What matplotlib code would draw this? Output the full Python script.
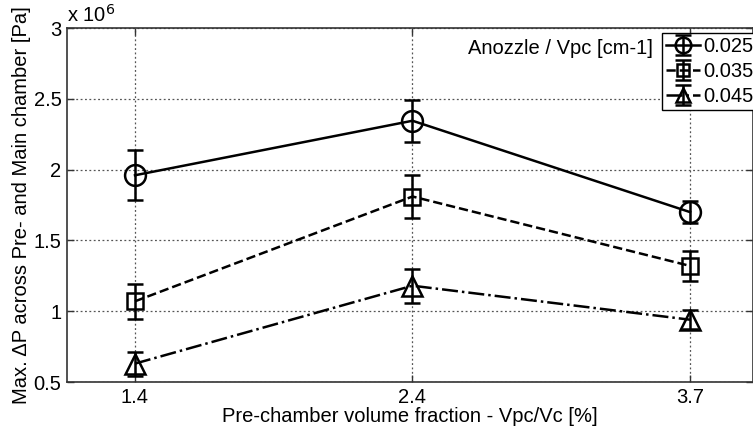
import matplotlib
matplotlib.use("Agg")
import matplotlib.pyplot as plt
from matplotlib.ticker import FixedLocator, FuncFormatter

plt.rcParams['font.family'] = ['Liberation Sans', 'DejaVu Sans']

categories = ["1.4", "2.4", "3.7"]
labels = ["0.025", "0.035", "0.045"]
# values in units of 10^6 Pa
vals_025 = [1.96, 2.345, 1.70]
err_025 = [0.175, 0.15, 0.075]
vals_035 = [1.07, 1.81, 1.32]
err_035 = [0.125, 0.15, 0.105]
vals_045 = [0.63, 1.18, 0.94]
err_045 = [0.085, 0.12, 0.065]

series = [
    (vals_025, err_025, 'o', '-', 15),
    (vals_035, err_035, 's', '--', 11),
    (vals_045, err_045, '^', '-.', 14),
]

FS = 14.5
fig = plt.figure(figsize=(7.53, 4.33), dpi=100)
ax = fig.add_axes([67/753, 1-382/433, 1-67/753, (382-28)/433])

xpos = list(range(1, len(categories) + 1))
handles = []
for (v, e, m, ls, ms), lab in zip(series, labels):
    h = ax.errorbar(xpos, v, yerr=e, marker=m, linestyle=ls, color='black',
                    markersize=ms, markerfacecolor='none', markeredgewidth=1.8,
                    linewidth=1.8, elinewidth=1.8, capsize=6, capthick=1.8,
                    label=lab, zorder=3)
    handles.append(h)

ax.set_xlim(0.755, 3.227)
ax.set_ylim(0.5, 3.0)
ax.xaxis.set_major_locator(FixedLocator(xpos))
ax.set_xticklabels(categories)
ax.yaxis.set_major_locator(FixedLocator([0.5, 1, 1.5, 2, 2.5, 3]))
ax.yaxis.set_major_formatter(FuncFormatter(lambda v, p: f"{v:g}"))
ax.tick_params(direction='in', length=5, labelsize=FS, top=True, right=True,
               color='#333333', width=1, pad=4)
ax.grid(True, linestyle=(0, (1.5, 2)), color='#555555', linewidth=0.9)
for s in ax.spines.values():
    s.set_color('#333333')
    s.set_linewidth(1.2)

ax.set_xlabel("Pre-chamber volume fraction - Vpc/Vc [%]", fontsize=FS, labelpad=0)
ax.set_ylabel("Max. ΔP across Pre- and Main chamber [Pa]", fontsize=FS, labelpad=2)

fig.text(67/753, 1-22/433, r"x 10$^{6}$", fontsize=FS, ha='left', va='baseline')

leg = ax.legend(handles=handles, loc='upper left',
                bbox_to_anchor=(662/753, 1-33/433), bbox_transform=fig.transFigure,
                fontsize=FS, frameon=True, fancybox=False, edgecolor='black',
                handlelength=1.7, handletextpad=0.15, labelspacing=0.3,
                borderpad=0.2, borderaxespad=0, framealpha=1, markerscale=0.75)
leg.get_frame().set_linewidth(1.0)
fig.text(653/753, 1-48/433, "Anozzle / Vpc [cm-1]", fontsize=FS, ha='right', va='center')

fig.savefig("out.png", dpi=100)
